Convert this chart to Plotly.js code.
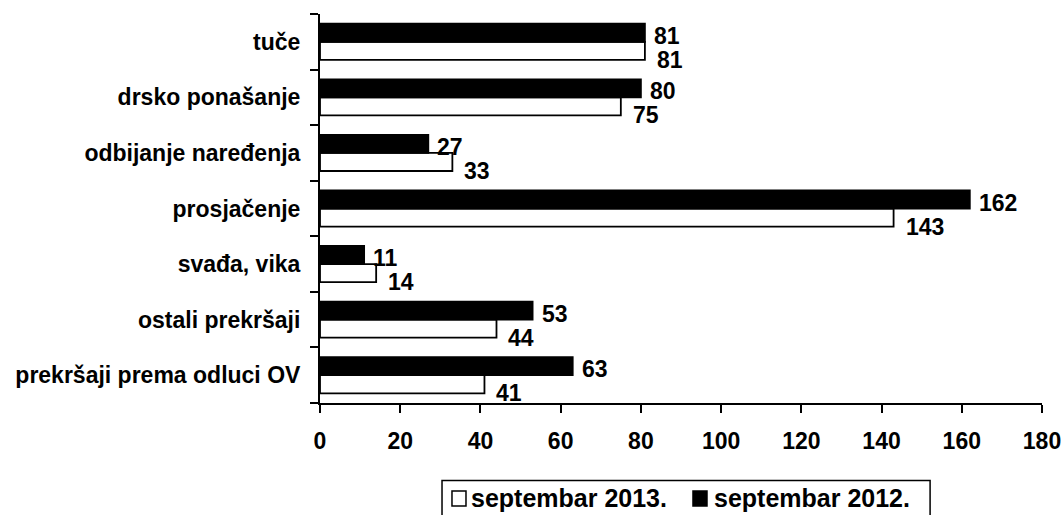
<!DOCTYPE html>
<html>
<head>
<meta charset="utf-8">
<script src="https://cdn.plot.ly/plotly-3.0.1.min.js"></script>
<style>html,body{margin:0;padding:0;background:#fff;}#chart{width:1063px;height:515px;}</style>
</head>
<body>
<div id="chart"></div>
<script>
// categories listed bottom-to-top (Plotly category axis runs upward)
const categories = [
  "prekršaji prema odluci OV",
  "ostali prekršaji",
  "svađa, vika",
  "prosjačenje",
  "odbijanje naređenja",
  "drsko ponašanje",
  "tuče"
];
const sep2013 = [41, 44, 14, 143, 33, 75, 81];
const sep2012 = [63, 53, 11, 162, 27, 80, 81];
const xTicks = [0, 20, 40, 60, 80, 100, 120, 140, 160, 180];
const seriesNames = ["septembar 2013.", "septembar 2012."];

const FONT = "Liberation Sans, Arial, sans-serif";
const baseFont = {family: FONT, size: 23, color: "#000", weight: "bold"};
const legendFont = {family: FONT, size: 25, color: "#000", weight: "bold"};

const traces = [
  {
    type: "bar", orientation: "h", name: seriesNames[0],
    y: categories, x: sep2013,
    marker: {color: "#fff", line: {color: "#000", width: 1.8}},
    hoverinfo: "x+y"
  },
  {
    type: "bar", orientation: "h", name: seriesNames[1],
    y: categories, x: sep2012,
    marker: {color: "#000", line: {color: "#000", width: 1.8}},
    hoverinfo: "x+y"
  }
];

const annotations = [];
categories.forEach((c, i) => {
  annotations.push({
    x: sep2012[i], y: c, xref: "x", yref: "y", text: String(sep2012[i]),
    showarrow: false, xanchor: "left", yanchor: "middle",
    xshift: 7, yshift: 6, font: baseFont
  });
  annotations.push({
    x: sep2013[i], y: c, xref: "x", yref: "y", text: String(sep2013[i]),
    showarrow: false, xanchor: "left", yanchor: "middle",
    xshift: 10, yshift: -18, font: baseFont
  });
});

// hand-built legend (box, swatches, labels) in paper coordinates
const shapes = [
  {type: "rect", xref: "paper", yref: "paper", x0: 0.169, x1: 0.845, y0: -0.199, y1: -0.34,
   line: {color: "#000", width: 1.5}, fillcolor: "#fff", layer: "above"},
  {type: "rect", xref: "paper", yref: "paper", x0: 0.1828, x1: 0.2022, y0: -0.2262, y1: -0.2648,
   line: {color: "#000", width: 1.5}, fillcolor: "#fff", layer: "above"},
  {type: "rect", xref: "paper", yref: "paper", x0: 0.5166, x1: 0.536, y0: -0.2262, y1: -0.2648,
   line: {color: "#000", width: 1.5}, fillcolor: "#000", layer: "above"}
];
annotations.push({
  xref: "paper", yref: "paper", x: 0.2068, y: -0.2442, text: seriesNames[0],
  showarrow: false, xanchor: "left", yanchor: "middle", font: legendFont
});
annotations.push({
  xref: "paper", yref: "paper", x: 0.5432, y: -0.2442, text: seriesNames[1],
  showarrow: false, xanchor: "left", yanchor: "middle", font: legendFont
});

const layout = {
  width: 1063, height: 515,
  margin: {l: 320, r: 21, t: 14, b: 112, pad: 0},
  paper_bgcolor: "#fff", plot_bgcolor: "#fff",
  font: baseFont,
  barmode: "group",
  bargap: 0.35, bargroupgap: 0,
  showlegend: false,
  xaxis: {
    range: [0, 180], tickvals: xTicks, ticktext: xTicks.map(String),
    showgrid: false, zeroline: false,
    showline: true, linecolor: "#000", linewidth: 2,
    ticks: "outside", ticklen: 8, tickwidth: 2, tickcolor: "#000",
    ticklabelstandoff: 8,
    tickfont: baseFont, fixedrange: true
  },
  yaxis: {
    type: "category", range: [-0.5, 6.5],
    showgrid: false, zeroline: false,
    showline: true, linecolor: "#000", linewidth: 2,
    ticks: "outside", tickson: "boundaries", ticklen: 8, tickwidth: 2, tickcolor: "#000",
    ticklabelstandoff: 13,
    tickfont: baseFont, fixedrange: true
  },
  shapes: shapes,
  annotations: annotations
};

Plotly.newPlot("chart", traces, layout, {displayModeBar: false, staticPlot: true});
</script>
</body>
</html>
